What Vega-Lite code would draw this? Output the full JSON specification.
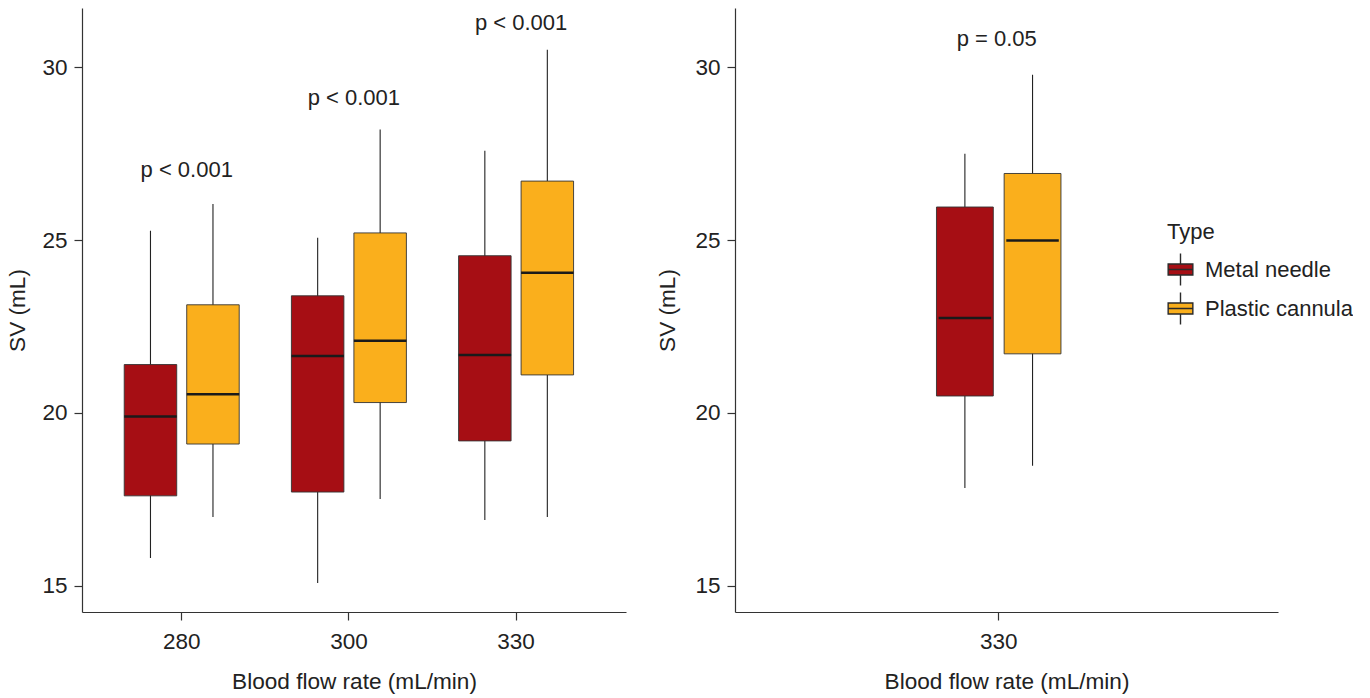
{
  "$schema": "https://vega.github.io/schema/vega-lite/v6.json",
  "padding": {"left": 6, "top": 8, "right": 0, "bottom": 0},
  "spacing": 30,
  "background": "white",
  "datasets": {
    "left": [
      {"rate": "280", "type": "Metal needle", "lower": 15.80, "q1": 17.60, "median": 19.90, "q3": 21.40, "upper": 25.27},
      {"rate": "280", "type": "Plastic cannula", "lower": 16.99, "q1": 19.10, "median": 20.54, "q3": 23.13, "upper": 26.05},
      {"rate": "300", "type": "Metal needle", "lower": 15.08, "q1": 17.71, "median": 21.65, "q3": 23.39, "upper": 25.07},
      {"rate": "300", "type": "Plastic cannula", "lower": 17.51, "q1": 20.30, "median": 22.09, "q3": 25.21, "upper": 28.20},
      {"rate": "330", "type": "Metal needle", "lower": 16.90, "q1": 19.19, "median": 21.68, "q3": 24.55, "upper": 27.59},
      {"rate": "330", "type": "Plastic cannula", "lower": 16.99, "q1": 21.10, "median": 24.06, "q3": 26.71, "upper": 30.51}
    ],
    "right": [
      {"rate": "330", "type": "Metal needle", "lower": 17.83, "q1": 20.49, "median": 22.75, "q3": 25.96, "upper": 27.50},
      {"rate": "330", "type": "Plastic cannula", "lower": 18.47, "q1": 21.71, "median": 24.99, "q3": 26.93, "upper": 29.79}
    ],
    "leftLabels": [
      {"rate": "280", "y": 26.84, "label": "p < 0.001"},
      {"rate": "300", "y": 28.92, "label": "p < 0.001"},
      {"rate": "330", "y": 31.09, "label": "p < 0.001"}
    ],
    "rightLabels": [
      {"rate": "330", "y": 30.61, "label": "p = 0.05"}
    ]
  },
  "resolve": {"scale": {"color": "independent", "x": "independent", "xOffset": "independent"}, "legend": {"color": "independent"}},
  "hconcat": [
    {
      "width": 544,
      "height": 604,
      "layer": [
        {
          "data": {"name": "left"},
          "mark": {"type": "rule", "color": "#222222", "strokeWidth": 1.1},
          "encoding": {
            "x": {"field": "rate", "type": "nominal", "title": "Blood flow rate (mL/min)", "sort": null,
                  "scale": {"domain": ["280", "300", "330"], "paddingInner": 0, "paddingOuter": 0.127, "align": 0.38},
                  "axis": {"labelAngle": 0, "labelPadding": 10, "titlePadding": 18}},
            "xOffset": {"field": "type", "type": "nominal", "scale": {"domain": ["Metal needle", "Plastic cannula"], "paddingInner": 0.16, "paddingOuter": 0.4176}},
            "y": {"field": "lower", "type": "quantitative", "title": "SV (mL)",
                  "scale": {"domain": [14.238, 31.72], "nice": false, "zero": false},
                  "axis": {"values": [15, 20, 25, 30], "labelPadding": 7, "titlePadding": 12}},
            "y2": {"field": "upper"}
          }
        },
        {
          "data": {"name": "left"},
          "mark": {"type": "bar", "stroke": "#333333", "strokeWidth": 0.9, "opacity": 1},
          "encoding": {
            "x": {"field": "rate", "type": "nominal", "sort": null},
            "xOffset": {"field": "type", "type": "nominal"},
            "y": {"field": "q1", "type": "quantitative"},
            "y2": {"field": "q3"},
            "color": {"field": "type", "type": "nominal", "legend": null,
                      "scale": {"domain": ["Metal needle", "Plastic cannula"], "range": ["#A60E14", "#FAAF1C"]}}
          }
        },
        {
          "data": {"name": "left"},
          "mark": {"type": "tick", "color": "#1a1a1a", "thickness": 2.5, "size": 52.5, "opacity": 1},
          "encoding": {
            "x": {"field": "rate", "type": "nominal", "sort": null},
            "xOffset": {"field": "type", "type": "nominal"},
            "y": {"field": "median", "type": "quantitative"}
          }
        },
        {
          "data": {"name": "leftLabels"},
          "mark": {"type": "text", "font": "Liberation Sans", "fontSize": 22, "color": "#222222", "baseline": "alphabetic", "align": "center", "dx": 5},
          "encoding": {
            "x": {"field": "rate", "type": "nominal", "sort": null},
            "y": {"field": "y", "type": "quantitative"},
            "text": {"field": "label"}
          }
        }
      ]
    },
    {
      "width": 543,
      "height": 604,
      "layer": [
        {
          "data": {"name": "right"},
          "mark": {"type": "rule", "color": "#222222", "strokeWidth": 1.1},
          "encoding": {
            "x": {"field": "rate", "type": "nominal", "title": "Blood flow rate (mL/min)",
                  "scale": {"domain": ["330"], "paddingInner": 0, "paddingOuter": 1.1238, "align": 0.4785},
                  "axis": {"labelAngle": 0, "labelPadding": 10, "titlePadding": 18}},
            "xOffset": {"field": "type", "type": "nominal", "scale": {"domain": ["Metal needle", "Plastic cannula"], "paddingInner": 0.16, "paddingOuter": 0.4176}},
            "y": {"field": "lower", "type": "quantitative", "title": "SV (mL)",
                  "scale": {"domain": [14.238, 31.72], "nice": false, "zero": false},
                  "axis": {"values": [15, 20, 25, 30], "labelPadding": 7, "titlePadding": 15}},
            "y2": {"field": "upper"}
          }
        },
        {
          "data": {"name": "right"},
          "mark": {"type": "bar", "stroke": "#333333", "strokeWidth": 0.9, "opacity": 1},
          "encoding": {
            "x": {"field": "rate", "type": "nominal"},
            "xOffset": {"field": "type", "type": "nominal"},
            "y": {"field": "q1", "type": "quantitative"},
            "y2": {"field": "q3"},
            "color": {"field": "type", "type": "nominal", "title": "Type",
                      "scale": {"domain": ["Metal needle", "Plastic cannula"], "range": ["#A60E14", "#FAAF1C"]},
                      "legend": {
                        "orient": "none", "legendX": 432, "legendY": 214,
                        "symbolType": "M-1,-0.45H1V0.45H-1Z M-1,0H1 M0,-0.45V-1.3 M0,0.45V1.3",
                        "symbolSize": 610, "symbolStrokeColor": "#2a2a2a", "symbolStrokeWidth": 1.4, "symbolOpacity": 1,
                        "rowPadding": 0, "labelOffset": 11, "titlePadding": 12,
                        "labelFont": "Liberation Sans", "labelFontSize": 22, "labelColor": "#222222",
                        "titleFont": "Liberation Sans", "titleFontSize": 22, "titleFontWeight": "normal", "titleColor": "#222222"
                      }}
          }
        },
        {
          "data": {"name": "right"},
          "mark": {"type": "tick", "color": "#1a1a1a", "thickness": 2.5, "size": 52.5, "opacity": 1},
          "encoding": {
            "x": {"field": "rate", "type": "nominal"},
            "xOffset": {"field": "type", "type": "nominal"},
            "y": {"field": "median", "type": "quantitative"}
          }
        },
        {
          "data": {"name": "rightLabels"},
          "mark": {"type": "text", "font": "Liberation Sans", "fontSize": 22, "color": "#222222", "baseline": "alphabetic", "align": "center", "dx": -2},
          "encoding": {
            "x": {"field": "rate", "type": "nominal"},
            "y": {"field": "y", "type": "quantitative"},
            "text": {"field": "label"}
          }
        }
      ]
    }
  ],
  "config": {
    "view": {"stroke": null},
    "axis": {
      "grid": false,
      "domainColor": "#333333",
      "domainWidth": 1.2,
      "tickColor": "#333333",
      "tickWidth": 1.2,
      "tickSize": 8,
      "labelFont": "Liberation Sans",
      "labelFontSize": 22.5,
      "labelColor": "#222222",
      "titleFont": "Liberation Sans",
      "titleFontSize": 22.6,
      "titleFontWeight": "normal",
      "titleColor": "#222222"
    }
  }
}
